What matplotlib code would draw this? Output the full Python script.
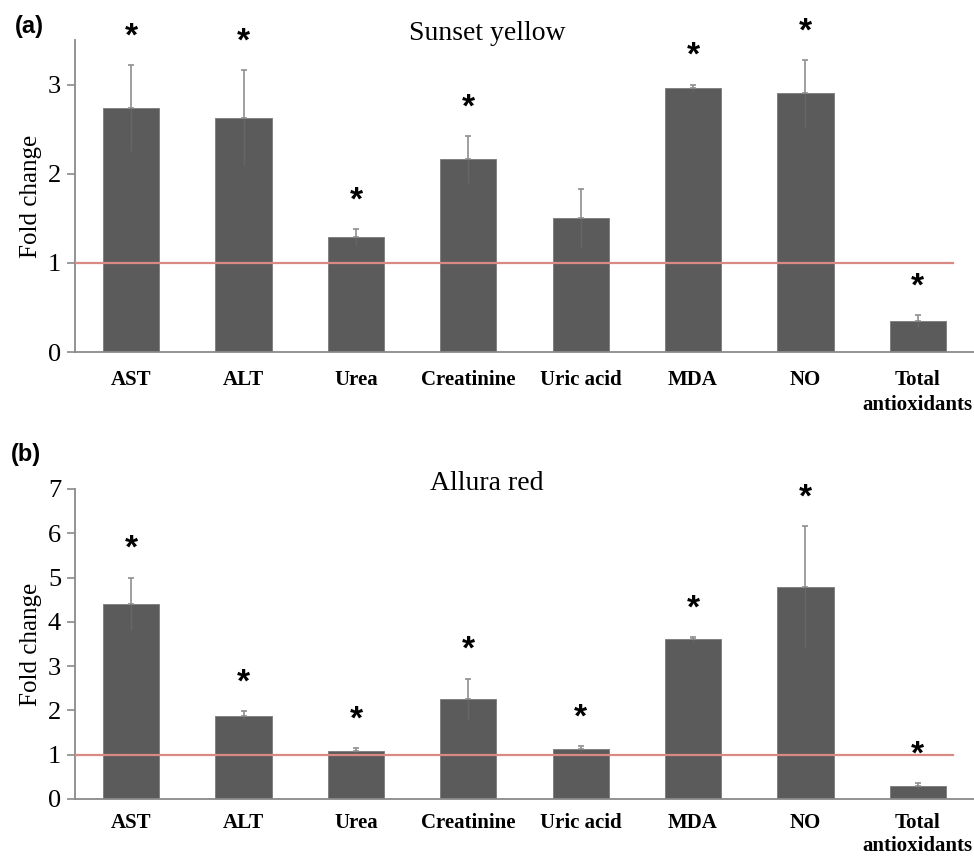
import numpy as np
import matplotlib.pyplot as plt

plt.rcParams['font.family'] = ['Liberation Serif', 'DejaVu Serif']

# categories
labels = ['AST', 'ALT', 'Urea', 'Creatinine', 'Uric acid', 'MDA', 'NO', 'Total\nantioxidants']

# (a) Sunset yellow
sy_mean = [2.74, 2.63, 1.29, 2.16, 1.50, 2.96, 2.90, 0.35]
sy_err = [0.48, 0.53, 0.09, 0.26, 0.33, 0.04, 0.38, 0.07]
sy_star = [1, 1, 1, 1, 0, 1, 1, 1]

# (b) Allura red
ar_mean = [4.41, 1.88, 1.08, 2.25, 1.13, 3.61, 4.79, 0.30]
ar_err = [0.59, 0.10, 0.06, 0.47, 0.06, 0.04, 1.38, 0.07]
ar_star = [1, 1, 1, 1, 1, 1, 1, 1]

bar_col = '#5b5b5b'
axis_col = '#8a8a8a'

fig = plt.figure(figsize=(9.74, 8.58), dpi=100)
ax1 = fig.add_axes([0.077, 0.5897, 0.923, 0.3637])
ax2 = fig.add_axes([0.077, 0.0688, 0.923, 0.3613])


def draw(ax, mean, err, star, ymax, yticks, pad, ls):
    x = np.arange(len(labels))
    zero = np.zeros(len(err))
    ax.bar(x, mean, width=0.5, color=bar_col, edgecolor='#7a7a7a', linewidth=0.6, zorder=2)
    # upper half of the error bar, with cap
    ax.errorbar(x, mean, yerr=[zero, err], fmt='none', ecolor='#8f8f8f', elinewidth=1.2,
                capsize=2.5, capthick=1.2, zorder=3)
    # lower half, faint inside the bar
    ax.errorbar(x, mean, yerr=[err, zero], fmt='none', ecolor='#666666', elinewidth=1.0,
                capsize=0, zorder=3)
    ax.axhline(1, xmin=0, xmax=0.977, color='#d98a86', lw=1.6, zorder=4)
    for i in range(len(labels)):
        if star[i]:
            ax.annotate('*', (x[i], mean[i] + err[i]), xytext=(0, 9), textcoords='offset points',
                        ha='center', va='bottom', fontsize=24, fontweight='bold',
                        family='Liberation Sans', zorder=5)
    ax.set_xlim(-0.5, 7.5)
    ax.set_ylim(0, ymax)
    ax.set_yticks(yticks)
    ax.set_xticks(x)
    ax.set_xticklabels(labels, fontweight='bold', fontsize=15, linespacing=ls)
    ax.tick_params(axis='x', length=0, pad=pad)
    ax.tick_params(axis='y', direction='out', length=6, width=1.2, color=axis_col,
                   labelsize=19, pad=4)
    for s in ['top', 'right']:
        ax.spines[s].set_visible(False)
    for s in ['left', 'bottom']:
        ax.spines[s].set_color(axis_col)
        ax.spines[s].set_linewidth(1.3)
    ax.set_ylabel('Fold change', fontsize=18, labelpad=4)


draw(ax1, sy_mean, sy_err, sy_star, 3.5, [0, 1, 2, 3], 13, 1.3)
draw(ax2, ar_mean, ar_err, ar_star, 7, [0, 1, 2, 3, 4, 5, 6, 7], 10, 1.2)

fig.text(0.5, 1 - 33 / 858, 'Sunset yellow', ha='center', va='center', fontsize=20)
fig.text(0.5, 1 - 484 / 858, 'Allura red', ha='center', va='center', fontsize=20)
fig.text(15 / 974, 1 - 26 / 858, '(a)', ha='left', va='center', fontsize=17,
         fontweight='bold', family='Liberation Sans')
fig.text(11 / 974, 1 - 455 / 858, '(b)', ha='left', va='center', fontsize=17,
         fontweight='bold', family='Liberation Sans')

fig.savefig('out.png', dpi=100)
